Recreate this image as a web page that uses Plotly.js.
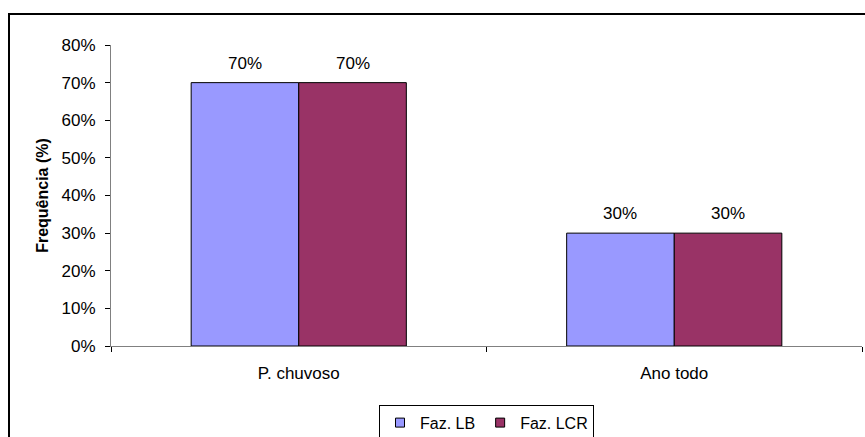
<!DOCTYPE html>
<html>
<head>
<meta charset="utf-8">
<script src="https://cdn.plot.ly/plotly-3.0.1.min.js"></script>
<style>
html,body{margin:0;padding:0;background:#fff;}
#chart{width:865px;height:437px;}
</style>
</head>
<body>
<div id="chart"></div>
<script>
const categories = ["P. chuvoso", "Ano todo"];
const seriesNames = ["Faz. LB", "Faz. LCR"];
const seriesColors = ["#9999FF", "#993366"];
const fazLB = [0.70, 0.30];
const fazLCR = [0.70, 0.30];
const yTickVals = [0, 0.1, 0.2, 0.3, 0.4, 0.5, 0.6, 0.7, 0.8];

const fam = "Liberation Sans, Arial, sans-serif";
const font = {family: fam, size: 17, color: "#000"};
const bargap = 0.427;

function pct(v){ return Math.round(v*100) + "%"; }

const seriesValues = [fazLB, fazLCR];
const traces = seriesValues.map((vals, k) => ({
  type: "bar", name: seriesNames[k], x: categories, y: vals,
  marker: {color: seriesColors[k], line: {color: "#000", width: 1}},
  showlegend: false, hoverinfo: "none"
}));
// legend entries with small square swatches
seriesNames.forEach((nm, k) => traces.push({
  type: "scatter", mode: "markers", name: nm, x: [null], y: [null],
  marker: {symbol: "square", size: 9, color: seriesColors[k], line: {color: "#000", width: 1}},
  showlegend: true
}));

// value labels above bars
const halfW = (1 - bargap) / 2;
const annotations = [];
seriesValues.forEach((vals, k) => {
  vals.forEach((v, i) => {
    annotations.push({
      x: i + (k === 0 ? -halfW / 2 : halfW / 2), y: v, xref: "x", yref: "y",
      text: pct(v), showarrow: false, yanchor: "bottom", yshift: 8, font: font
    });
  });
});

const layout = {
  width: 865, height: 437,
  margin: {l: 111, r: 3, t: 45, b: 91, autoexpand: false},
  paper_bgcolor: "#fff", plot_bgcolor: "#fff",
  font: font,
  barmode: "group",
  bargap: bargap, bargroupgap: 0,
  showlegend: true,
  legend: {orientation: "h", x: 0.5, xanchor: "center", y: -0.195, yanchor: "top",
           bordercolor: "#000", borderwidth: 1,
           font: {family: fam, size: 16, color: "#000"},
           itemwidth: 30, tracegroupgap: 0},
  annotations: annotations,
  xaxis: {type: "category", showline: true, linecolor: "#808080", linewidth: 1,
          ticks: "outside", tickson: "boundaries", ticklen: 5, tickcolor: "#000",
          showgrid: false, zeroline: false, ticklabelstandoff: 12, tickfont: font,
          automargin: false},
  yaxis: {range: [0, 0.8], tickvals: yTickVals, tickformat: ".0%",
          showline: true, linecolor: "#808080", linewidth: 1,
          ticks: "outside", ticklen: 5, tickcolor: "#000",
          showgrid: false, zeroline: false, tickfont: font, ticklabelstandoff: 6,
          automargin: false,
          title: {text: "Frequência (%)", font: {family: fam, size: 16, color: "#000", weight: "bold"}, standoff: 8}},
  shapes: [
    {type: "rect", xref: "paper", yref: "paper",
     x0: (9 - 111) / 751, x1: (880 - 111) / 751,
     y0: (346 - 460) / 301, y1: (346 - 14) / 301,
     line: {color: "#000", width: 2}, fillcolor: "rgba(0,0,0,0)", layer: "below"}
  ]
};

Plotly.newPlot("chart", traces, layout, {displayModeBar: false, staticPlot: true});
</script>
</body>
</html>
